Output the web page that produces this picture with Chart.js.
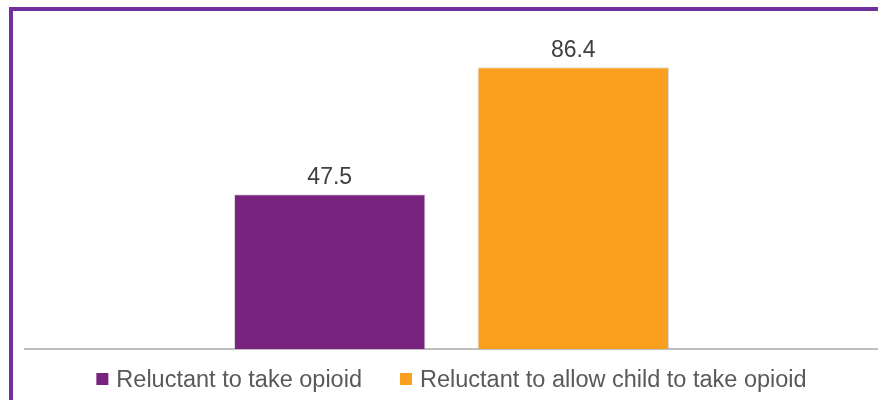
<!DOCTYPE html>
<html>
<head>
<meta charset="utf-8">
<script src="https://cdn.jsdelivr.net/npm/chart.js@4"></script>
<style>
  html, body { margin: 0; padding: 0; background: #fff; }
  #frame {
    position: absolute; left: 9px; top: 7px;
    width: 865px; height: 389px;
    border-left: 4px solid #7030a0;
    border-top: 4px solid #7030a0;
  }
  #chart { display: block; }
</style>
</head>
<body>
<div id="frame"><canvas id="chart" width="865" height="389"></canvas></div>
<script>
var categories = [''];
var seriesNames = ['Reluctant to take opioid', 'Reluctant to allow child to take opioid'];
var takeOpioid = [47.5];
var allowChild = [86.4];
var seriesColors = ['#78237F', '#FB9F1E'];

var fontFamily = '"Liberation Sans", Arial, sans-serif';

// labels above each bar
var barValueLabels = {
    id: 'barValueLabels',
    afterDatasetsDraw: function(chart) {
        var ctx = chart.ctx;
        ctx.save();
        ctx.font = '23px ' + fontFamily;
        ctx.fillStyle = '#404040';
        ctx.textAlign = 'center';
        ctx.textBaseline = 'alphabetic';
        chart.data.datasets.forEach(function(ds, i) {
            chart.getDatasetMeta(i).data.forEach(function(bar, j) {
                ctx.fillText(ds.data[j].toFixed(1), bar.x, bar.y - 10);
            });
        });
        ctx.restore();
    }
};

// legend under the axis, drawn by hand for tighter spacing
var bottomLegend = {
    id: 'bottomLegend',
    afterDraw: function(chart) {
        var ctx = chart.ctx;
        var area = chart.chartArea;
        var box = 12, gap = 8, between = 38;
        ctx.save();
        ctx.font = '23.5px ' + fontFamily;
        var widths = chart.data.datasets.map(function(ds) {
            return box + gap + ctx.measureText(ds.label).width;
        });
        var total = widths.reduce(function(a, b) { return a + b; }, 0) + between * (widths.length - 1);
        var x = (area.left + area.right) / 2 - total / 2;
        var baseline = area.bottom + 38;
        chart.data.datasets.forEach(function(ds, i) {
            ctx.fillStyle = ds.backgroundColor;
            ctx.fillRect(x, baseline - 14, box, box);
            ctx.fillStyle = '#595959';
            ctx.textAlign = 'left';
            ctx.textBaseline = 'alphabetic';
            ctx.fillText(ds.label, x + box + gap, baseline);
            x += widths[i] + between;
        });
        ctx.restore();
    }
};

var data = {
    labels: categories,
    datasets: [
        {
            label: seriesNames[0],
            data: takeOpioid,
            backgroundColor: seriesColors[0],
            borderColor: 'rgba(180,180,180,0.5)',
            borderWidth: 1
        },
        {
            label: seriesNames[1],
            data: allowChild,
            backgroundColor: seriesColors[1],
            borderColor: 'rgba(180,180,180,0.5)',
            borderWidth: 1
        }
    ]
};

var options = {
    responsive: false,
    animation: false,
    categoryPercentage: 0.571,
    barPercentage: 0.786,
    layout: { padding: { left: 12, right: 0, top: 12, bottom: 43 } },
    plugins: {
        legend: { display: false },
        tooltip: { enabled: false }
    },
    scales: {
        x: {
            grid: { display: false },
            ticks: { display: false },
            border: { color: '#bfbfbf', width: 2 }
        },
        y: {
            display: false,
            min: 0,
            max: 100
        }
    }
};

var contexto = document.getElementById('chart').getContext('2d');
var grafico = new Chart(contexto, {
    type: 'bar',
    data: data,
    options: options,
    plugins: [barValueLabels, bottomLegend]
});
</script>
</body>
</html>
